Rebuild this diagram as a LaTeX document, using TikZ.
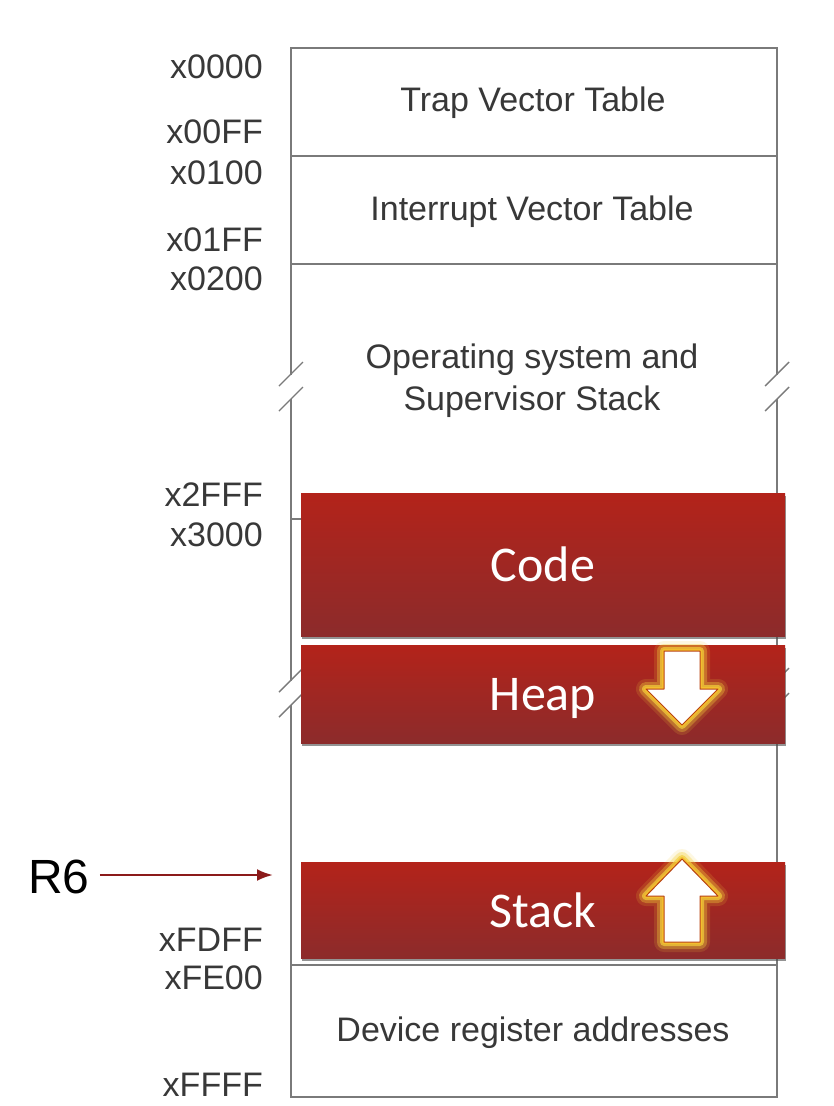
\documentclass[tikz,border=0pt]{standalone}
\usepackage{fontspec}
\setmainfont{Liberation Sans}
\newfontfamily\segfont{Carlito}
\usetikzlibrary{calc,positioning,shadows,arrows.meta}

\definecolor{memline}{HTML}{7A7A7A}
\definecolor{memtext}{HTML}{383838}
\definecolor{segtop}{HTML}{B3231A}
\definecolor{segbot}{HTML}{8C2B2B}
\definecolor{glow}{HTML}{F2CF3A}
\definecolor{ptrred}{HTML}{8B1A1A}

\tikzset{
  region/.style={font=\fontsize{34}{42}\selectfont, text=memtext, align=center},
  addr/.style={font=\fontsize{34}{40}\selectfont, text=memtext, anchor=east, inner sep=0pt},
  segment/.style={rectangle, top color=segtop, bottom color=segbot, text depth=0pt,
    minimum width=484pt, text=white, font=\segfont\fontsize{50}{60}\selectfont,
    drop shadow={shadow xshift=1pt, shadow yshift=-3pt, opacity=0.6, fill=black!70}},
  growarrow/.style={fill=white, draw=ptrred!60!orange, line width=1pt, line join=round,
    preaction={draw=glow, line width=20pt, opacity=0.15, line join=round},
    preaction={draw=glow, line width=14pt, opacity=0.35, line join=round},
    preaction={draw=glow, line width=8pt, opacity=0.7, line join=round},
    preaction={draw=glow!80!orange, line width=4pt, opacity=0.9, line join=round}},
}

\begin{document}
\begin{tikzpicture}[x=1pt, y=-1pt]
  \useasboundingbox[fill=white] (0,0) rectangle (834,1106);

  % memory map frame
  \draw[memline, line width=1.6pt] (291,48) rectangle (777,1097);
  \foreach \ly in {156,264,519,965}
    \draw[memline, line width=1.6pt] (291,\ly) -- (777,\ly);

  % break marks
  \foreach \bx/\by in {291/387, 777/387, 291/693, 777/693} {
    \fill[white] (\bx-3,\by-12) rectangle (\bx+3,\by+12);
    \draw[memline, line width=1.4pt] (\bx-12,\by-1) -- (\bx+12,\by-25);
    \draw[memline, line width=1.4pt] (\bx-12,\by+24) -- (\bx+12,\by);
  }

  % region labels
  \node[region] (trap) at (533,103) {Trap Vector Table};
  \node[region] (intr) at (532,212) {Interrupt Vector Table};
  \node[region] (os) at (532,381) {Operating system and\\Supervisor Stack};
  \node[region] (dev) at (533,1033) {Device register addresses};

  % addresses
  \foreach \name/\ypos in {x0000/67, x00FF/132, x0100/173, x01FF/240, x0200/279,
                           x2FFF/495, x3000/535, xFDFF/940, xFE00/978, xFFFF/1085}
    \node[addr] (\name) at (263,\ypos) {\name};

  % program segments
  \node[segment, minimum height=143pt] (code) at (543,564.5) {Code};
  \node[segment, minimum height=98pt] (heap) at (543,694) {Heap};
  \node[segment, minimum height=96pt] (stack) at (543,910) {Stack};

  % growth directions
  \draw[growarrow] (664,651) -- (700,651) -- (700,689) -- (718,689) -- (682,725)
    -- (646,689) -- (664,689) -- cycle;
  \draw[growarrow] (664,942) -- (700,942) -- (700,896) -- (718,896) -- (682,859)
    -- (646,896) -- (664,896) -- cycle;

  % stack pointer
  \node[font=\fontsize{48}{56}\selectfont, inner sep=2pt] (r6) at (59,877) {R6};
  \coordinate (sp) at (273,875);
  \draw[ptrred, line width=2.6pt, -{Latex[length=16pt, width=12pt]}] (r6.east |- sp) ++(8,0) -- (sp);
\end{tikzpicture}
\end{document}
